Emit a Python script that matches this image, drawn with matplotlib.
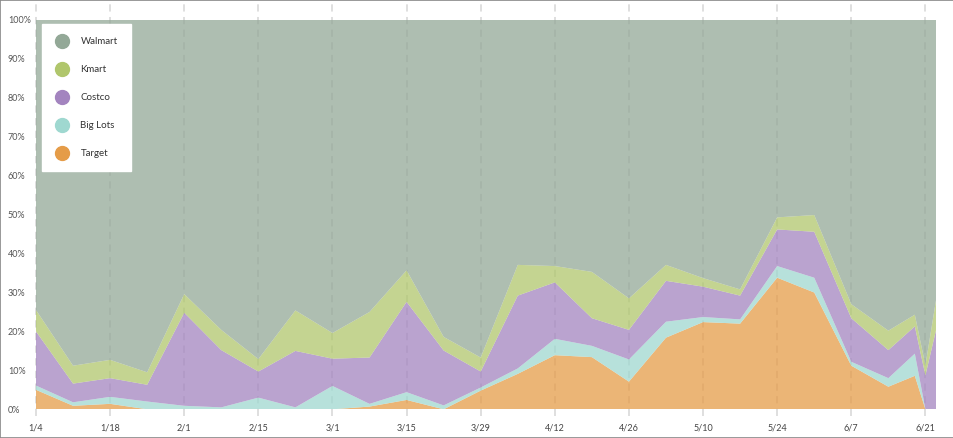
import numpy as np
import matplotlib.pyplot as plt
import matplotlib.dates as mdates
from matplotlib.lines import Line2D

plt.rcParams['font.family'] = ['Lato', 'DejaVu Sans']

# weekly store shares (%), last few points are closer together
dates = np.array(['2015-01-04', '2015-01-11', '2015-01-18', '2015-01-25', '2015-02-01',
                  '2015-02-08', '2015-02-15', '2015-02-22', '2015-03-01', '2015-03-08',
                  '2015-03-15', '2015-03-22', '2015-03-29', '2015-04-05', '2015-04-12',
                  '2015-04-19', '2015-04-26', '2015-05-03', '2015-05-10', '2015-05-17',
                  '2015-05-24', '2015-05-31', '2015-06-07', '2015-06-14', '2015-06-19',
                  '2015-06-21', '2015-06-23'], dtype='datetime64[D]')

target = [5.0, 0.9, 1.4, 0, 0, 0, 0, 0, 0, 0.7, 2.4, 0, 4.8, 9.1, 13.9, 13.4, 7.1,
          18.4, 22.4, 22.0, 33.8, 30.0, 11.2, 5.8, 8.6, 0, 0]
big_lots = [1.1, 0.9, 1.8, 2.0, 0.9, 0.5, 3.0, 0.5, 6.0, 0.7, 2.0, 1.0, 0.8, 1.4, 4.2,
            2.9, 5.7, 4.1, 1.3, 1.1, 3.0, 3.8, 1.0, 2.2, 5.7, 0, 0]
costco = [13.9, 4.8, 4.8, 4.3, 23.9, 14.7, 6.7, 14.5, 7.0, 11.9, 23.2, 14.1, 4.1, 18.7,
          14.5, 7.1, 7.6, 10.5, 7.8, 6.1, 9.4, 11.8, 11.2, 7.2, 7.0, 8.7, 20.3]
kmart = [5.5, 4.6, 4.7, 3.2, 4.8, 5.2, 3.2, 10.4, 6.6, 11.7, 8.1, 3.5, 3.6, 7.9, 4.2,
         11.9, 8.1, 4.1, 2.2, 1.6, 3.1, 4.3, 3.6, 5.0, 3.0, 2.6, 7.7]
walmart = [74.5, 88.8, 87.3, 90.5, 70.4, 79.6, 87.1, 74.6, 80.4, 75.0, 64.3, 81.4, 86.7,
           62.9, 63.2, 64.7, 71.5, 62.9, 66.3, 69.2, 50.7, 50.1, 73.0, 79.8, 75.7, 88.7, 72.0]

tick_dates = np.array(['2015-01-04', '2015-01-18', '2015-02-01', '2015-02-15', '2015-03-01',
                       '2015-03-15', '2015-03-29', '2015-04-12', '2015-04-26', '2015-05-10',
                       '2015-05-24', '2015-06-07', '2015-06-21'], dtype='datetime64[D]')
tick_labels = ['1/4', '1/18', '2/1', '2/15', '3/1', '3/15', '3/29', '4/12', '4/26',
               '5/10', '5/24', '6/7', '6/21']

names = ['Target', 'Big Lots', 'Costco', 'Kmart', 'Walmart']
colors = ['#e59c48', '#9fd8d0', '#a384bf', '#b0c66c', '#93a897']

series = np.array([target, big_lots, costco, kmart, walmart], dtype=float)
shares = series / series.sum(axis=0) * 100

fig = plt.figure(figsize=(9.54, 4.38), dpi=100)
ax = fig.add_axes([36 / 954, 28.7 / 438, 900 / 954, 389.3 / 438])

x = mdates.date2num(dates.astype('O'))
ax.stackplot(x, shares, colors=colors, alpha=0.75, linewidth=0, zorder=2)

ax.set_xlim(x[0], x[-1])
ax.set_ylim(0, 100)

tx = mdates.date2num(tick_dates.astype('O'))
ax.set_xticks(tx)
ax.set_xticklabels(tick_labels)
ax.set_yticks(range(0, 101, 10))
ax.set_yticklabels([f'{v}%' for v in range(0, 101, 10)])
for lab in ax.get_yticklabels():
    lab.set_horizontalalignment('left')
ax.tick_params(axis='y', length=0, pad=20.2, labelsize=6.5, labelcolor='#555555')
ax.tick_params(axis='x', length=0, pad=10, labelsize=6.5, labelcolor='#444444')

for s in ax.spines.values():
    s.set_visible(False)

# dashed vertical guides, under the see-through areas and past the plot edges
for t in tx:
    ax.axvline(t, ymin=-0.017, ymax=1.052, color='#dcdcdc', lw=1.3,
               dashes=(4, 3), clip_on=False, zorder=1)

handles = [Line2D([], [], marker='o', linestyle='', markersize=10,
                  markerfacecolor=c, markeredgecolor=c)
           for c in colors[::-1]]
leg = ax.legend(handles, names[::-1], loc='upper left',
                bbox_to_anchor=(6 / 900, 1 - 4 / 389.3), borderaxespad=0,
                frameon=True, fancybox=False, framealpha=1, edgecolor='white',
                facecolor='white', borderpad=1.35, labelspacing=1.95,
                handlelength=1.4, handletextpad=1.2,
                prop={'size': 7}, labelcolor='#333333')
leg.set_zorder(5)

# thin frame round the image
for xs, ys in [([0.0005, 0.0005], [0, 1]), ([0, 1], [0.001, 0.001]),
               ([0.9995, 0.9995], [0, 1]), ([0, 1], [0.999, 0.999])]:
    fig.add_artist(Line2D(xs, ys, color='#888888', lw=1.2, transform=fig.transFigure))

fig.savefig('out.png', dpi=100)
